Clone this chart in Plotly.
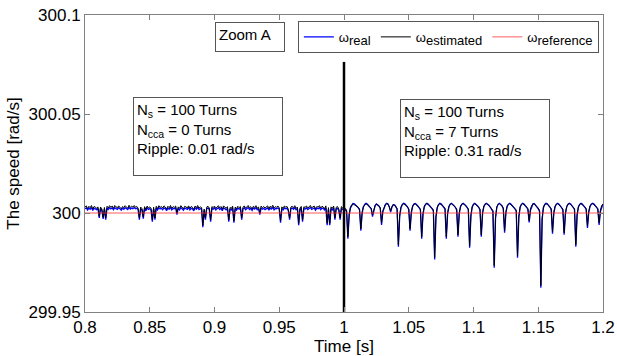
import plotly.graph_objects as go

# time grid: 0.8 .. 1.2 s, 1 ms samples (401 samples)
t_start_ms = 800
t_stop_ms = 1200
time_s = [k / 1000.0 for k in range(t_start_ms, t_stop_ms + 1)]

# estimated speed (black), one row per 10 ms
w_estimated = [
    # 0.80
    300.0030, 300.0036, 300.0022, 300.0034, 300.0027, 300.0038, 300.0020, 300.0033, 300.0029, 300.0024,
    300.0031, 299.9983, 300.0030, 300.0021, 299.9978, 300.0028, 299.9975, 300.0034, 300.0026, 300.0037,
    300.0029, 300.0035, 300.0023, 300.0038, 300.0031, 300.0026, 300.0036, 300.0030, 300.0021, 300.0033,
    300.0027, 300.0037, 300.0032, 300.0024, 300.0039, 300.0028, 300.0034, 300.0030, 300.0038, 300.0029,
    300.0033, 300.0025, 299.9975, 300.0030, 300.0022, 299.9980, 300.0032, 300.0018, 300.0035, 300.0026,
    300.0031, 300.0024, 299.9965, 300.0029, 299.9975, 300.0034, 300.0022, 300.0037, 300.0028, 300.0033,
    300.0025, 300.0036, 300.0030, 300.0019, 300.0034, 300.0027, 300.0038, 300.0023, 300.0032, 300.0029,
    300.0035, 300.0000, 300.0031, 300.0024, 300.0037, 300.0028, 300.0021, 300.0034, 300.0030, 300.0026,
    300.0036, 300.0023, 300.0033, 300.0029, 300.0018, 300.0035, 300.0027, 300.0038, 300.0024, 300.0031,
    300.0028, 299.9937, 300.0020, 299.9975, 300.0030, 300.0034, 300.0025, 299.9965, 300.0032, 300.0027,
    # 0.90
    300.0035, 300.0022, 300.0031, 300.0037, 300.0026, 300.0033, 300.0019, 300.0036, 300.0029, 300.0024,
    300.0032, 299.9965, 300.0028, 300.0023, 300.0035, 299.9960, 300.0030, 300.0021, 300.0034, 300.0027,
    300.0033, 299.9975, 300.0029, 300.0036, 300.0024, 300.0031, 300.0038, 300.0026, 300.0032, 300.0020,
    300.0034, 300.0028, 300.0037, 300.0023, 300.0031, 300.0000, 300.0035, 300.0027, 300.0033, 300.0025,
    300.0030, 300.0036, 300.0021, 300.0034, 300.0028, 300.0039, 300.0024, 300.0032, 300.0029, 300.0035,
    300.0026, 299.9960, 300.0031, 300.0022, 300.0036, 300.0029, 300.0033, 300.0019, 299.9975, 300.0030,
    300.0034, 300.0027, 300.0037, 300.0023, 300.0030, 299.9948, 300.0025, 300.0033, 299.9965, 300.0031,
    300.0028, 300.0036, 300.0024, 300.0032, 300.0038, 300.0026, 300.0030, 300.0035, 300.0021, 300.0033,
    300.0029, 300.0037, 300.0025, 300.0034, 300.0030, 300.0022, 300.0036, 299.9948, 300.0027, 299.9948,
    300.0031, 300.0024, 300.0035, 299.9975, 300.0029, 300.0033, 300.0020, 299.9975, 300.0032, 300.0026,
    # 1.00
    300.0030, 300.0022, 300.0015, 299.9880, 299.9995, 300.0030, 300.0042, 300.0046, 300.0043, 300.0038,
    300.0033, 300.0028, 300.0020, 299.9920, 300.0005, 300.0034, 300.0044, 300.0047, 300.0042, 300.0036,
    300.0031, 300.0024, 299.9990, 300.0020, 300.0038, 300.0045, 300.0041, 300.0035, 300.0026, 299.9950,
    300.0012, 300.0033, 300.0043, 300.0047, 300.0044, 300.0030, 300.0010, 300.0032, 300.0042, 300.0039,
    300.0032, 300.0022, 299.9840, 299.9990, 300.0030, 300.0043, 300.0047, 300.0044, 300.0038, 300.0030,
    300.0021, 299.9920, 300.0008, 300.0036, 300.0045, 300.0046, 300.0041, 300.0035, 300.0028, 300.0019,
    299.9880, 300.0000, 300.0033, 300.0044, 300.0047, 300.0043, 300.0037, 300.0031, 300.0025, 300.0016,
    299.9775, 299.9985, 300.0030, 300.0043, 300.0047, 300.0044, 300.0038, 300.0032, 300.0023, 299.9880,
    300.0002, 300.0034, 300.0045, 300.0047, 300.0042, 300.0036, 300.0029, 300.0020, 299.9890, 300.0003,
    300.0035, 300.0045, 300.0047, 300.0043, 300.0037, 300.0030, 300.0021, 299.9835, 299.9992, 300.0032,
    # 1.10
    300.0044, 300.0047, 300.0043, 300.0036, 300.0029, 300.0020, 299.9890, 300.0004, 300.0035, 300.0045,
    300.0047, 300.0043, 300.0037, 300.0030, 300.0022, 300.0012, 299.9734, 299.9980, 300.0031, 300.0044,
    300.0047, 300.0043, 300.0036, 300.0025, 299.9910, 300.0006, 300.0036, 300.0045, 300.0047, 300.0042,
    300.0036, 300.0030, 300.0024, 300.0015, 299.9784, 299.9985, 300.0031, 300.0044, 300.0047, 300.0043,
    300.0037, 300.0030, 300.0022, 299.9960, 300.0020, 300.0039, 300.0046, 300.0045, 300.0039, 300.0032,
    300.0025, 300.0014, 299.9633, 299.9975, 300.0030, 300.0043, 300.0047, 300.0044, 300.0038, 300.0031,
    300.0022, 299.9905, 300.0004, 300.0035, 300.0045, 300.0047, 300.0042, 300.0036, 300.0028, 300.0019,
    299.9900, 300.0003, 300.0034, 300.0045, 300.0047, 300.0043, 300.0037, 300.0030, 300.0021, 299.9840,
    299.9995, 300.0032, 300.0044, 300.0047, 300.0043, 300.0037, 300.0030, 300.0022, 299.9935, 300.0010,
    300.0036, 300.0045, 300.0047, 300.0043, 300.0037, 300.0030, 300.0022, 299.9950, 300.0015, 300.0038,
    # 1.20
    300.0045,
]

# real speed (blue)
w_real = [
    # 0.80
    300.0022, 300.0026, 300.0015, 300.0025, 300.0019, 300.0028, 300.0013, 300.0024, 300.0021, 300.0017,
    300.0023, 299.9975, 300.0022, 300.0014, 299.9970, 300.0020, 299.9966, 300.0025, 300.0018, 300.0027,
    300.0021, 300.0026, 300.0016, 300.0028, 300.0022, 300.0018, 300.0027, 300.0021, 300.0014, 300.0024,
    300.0019, 300.0027, 300.0023, 300.0017, 300.0029, 300.0020, 300.0025, 300.0022, 300.0028, 300.0021,
    300.0024, 300.0017, 299.9966, 300.0022, 300.0015, 299.9971, 300.0023, 300.0011, 300.0026, 300.0018,
    300.0022, 300.0016, 299.9956, 300.0021, 299.9966, 300.0025, 300.0015, 300.0027, 300.0020, 300.0024,
    300.0017, 300.0026, 300.0022, 300.0012, 300.0025, 300.0019, 300.0028, 300.0016, 300.0023, 300.0021,
    300.0026, 299.9992, 300.0023, 300.0016, 300.0027, 300.0020, 300.0014, 300.0025, 300.0022, 300.0018,
    300.0027, 300.0016, 300.0024, 300.0021, 300.0011, 300.0026, 300.0019, 300.0028, 300.0017, 300.0022,
    300.0020, 299.9928, 300.0013, 299.9966, 300.0022, 300.0025, 300.0017, 299.9956, 300.0023, 300.0019,
    # 0.90
    300.0026, 300.0015, 300.0022, 300.0027, 300.0018, 300.0024, 300.0012, 300.0026, 300.0021, 300.0016,
    300.0023, 299.9956, 300.0020, 300.0015, 300.0026, 299.9951, 300.0022, 300.0014, 300.0025, 300.0019,
    300.0024, 299.9966, 300.0021, 300.0027, 300.0016, 300.0022, 300.0028, 300.0018, 300.0023, 300.0013,
    300.0025, 300.0020, 300.0027, 300.0016, 300.0022, 299.9992, 300.0026, 300.0019, 300.0024, 300.0017,
    300.0022, 300.0026, 300.0014, 300.0025, 300.0020, 300.0029, 300.0016, 300.0023, 300.0021, 300.0026,
    300.0018, 299.9951, 300.0022, 300.0015, 300.0026, 300.0021, 300.0024, 300.0012, 299.9966, 300.0022,
    300.0025, 300.0019, 300.0027, 300.0016, 300.0022, 299.9939, 300.0017, 300.0024, 299.9956, 300.0022,
    300.0020, 300.0026, 300.0017, 300.0023, 300.0028, 300.0018, 300.0022, 300.0026, 300.0014, 300.0024,
    300.0021, 300.0027, 300.0017, 300.0025, 300.0022, 300.0015, 300.0026, 299.9939, 300.0019, 299.9939,
    300.0023, 300.0016, 300.0026, 299.9966, 300.0021, 300.0024, 300.0013, 299.9966, 300.0023, 300.0018,
    # 1.00
    300.0024, 300.0016, 300.0008, 299.9870, 299.9988, 300.0026, 300.0041, 300.0048, 300.0046, 300.0040,
    300.0034, 300.0027, 300.0016, 299.9910, 299.9998, 300.0030, 300.0043, 300.0049, 300.0045, 300.0038,
    300.0031, 300.0021, 299.9982, 300.0015, 300.0036, 300.0046, 300.0043, 300.0036, 300.0024, 299.9940,
    300.0006, 300.0030, 300.0043, 300.0049, 300.0046, 300.0031, 300.0004, 300.0029, 300.0042, 300.0041,
    300.0033, 300.0019, 299.9830, 299.9982, 300.0026, 300.0042, 300.0049, 300.0046, 300.0040, 300.0031,
    300.0018, 299.9910, 300.0001, 300.0033, 300.0045, 300.0048, 300.0043, 300.0036, 300.0027, 300.0015,
    299.9870, 299.9992, 300.0030, 300.0044, 300.0049, 300.0045, 300.0038, 300.0031, 300.0022, 300.0011,
    299.9765, 299.9976, 300.0026, 300.0042, 300.0049, 300.0046, 300.0039, 300.0032, 300.0020, 299.9870,
    299.9995, 300.0031, 300.0045, 300.0049, 300.0044, 300.0037, 300.0028, 300.0016, 299.9880, 299.9996,
    300.0032, 300.0045, 300.0049, 300.0045, 300.0038, 300.0029, 300.0017, 299.9825, 299.9984, 300.0029,
    # 1.10
    300.0044, 300.0049, 300.0045, 300.0037, 300.0028, 300.0016, 299.9880, 299.9997, 300.0032, 300.0045,
    300.0049, 300.0045, 300.0038, 300.0029, 300.0019, 300.0007, 299.9724, 299.9972, 300.0028, 300.0044,
    300.0049, 300.0045, 300.0037, 300.0022, 299.9900, 299.9999, 300.0033, 300.0045, 300.0049, 300.0044,
    300.0037, 300.0030, 300.0021, 300.0010, 299.9774, 299.9977, 300.0028, 300.0044, 300.0049, 300.0045,
    300.0038, 300.0029, 300.0018, 299.9952, 300.0014, 300.0037, 300.0047, 300.0047, 300.0040, 300.0031,
    300.0021, 300.0008, 299.9623, 299.9967, 300.0027, 300.0043, 300.0049, 300.0046, 300.0039, 300.0030,
    300.0018, 299.9895, 299.9997, 300.0032, 300.0045, 300.0049, 300.0044, 300.0037, 300.0027, 300.0015,
    299.9890, 299.9996, 300.0031, 300.0045, 300.0049, 300.0045, 300.0038, 300.0029, 300.0017, 299.9830,
    299.9987, 300.0029, 300.0044, 300.0049, 300.0045, 300.0038, 300.0029, 300.0018, 299.9925, 300.0003,
    300.0033, 300.0045, 300.0049, 300.0045, 300.0038, 300.0029, 300.0018, 299.9940, 300.0008, 300.0035,
    # 1.20
    300.0046,
]

ref_t = [0.8, 1.2]
w_reference = [300.0, 300.0]

marker_t = [1.0, 1.0]
marker_y = [299.95, 300.0763]

x_ticks = [0.8, 0.85, 0.9, 0.95, 1.0, 1.05, 1.1, 1.15, 1.2]
x_ticklabels = ["0.8", "0.85", "0.9", "0.95", "1", "1.05", "1.1", "1.15", "1.2"]
y_ticks = [299.95, 300.0, 300.05, 300.1]
y_ticklabels = ["299.95", "300", "300.05", "300.1"]

FONT = "Liberation Sans, Arial, sans-serif"
SUB = "<sub><span style='font-size:13px'>{}</span></sub>"

fig = go.Figure()
fig.add_trace(go.Scatter(x=time_s, y=w_real, mode="lines", name="ω" + SUB.format("real"),
                         line=dict(color="#0000ff", width=1.3)))
fig.add_trace(go.Scatter(x=time_s, y=w_estimated, mode="lines", name="ω" + SUB.format("estimated"),
                         line=dict(color="#000000", width=1)))
fig.add_trace(go.Scatter(x=ref_t, y=w_reference, mode="lines", name="ω" + SUB.format("reference"),
                         line=dict(color="#ff3030", width=0.8)))
fig.add_trace(go.Scatter(x=marker_t, y=marker_y, mode="lines", showlegend=False,
                         line=dict(color="#000000", width=2.5)))

box_text_left = "N<sub>s</sub> = 100 Turns<br>N<sub>cca</sub> = 0 Turns<br>Ripple: 0.01 rad/s"
box_text_right = "N<sub>s</sub> = 100 Turns<br>N<sub>cca</sub> = 7 Turns<br>Ripple: 0.31 rad/s"

fig.update_layout(
    width=617, height=356,
    margin=dict(l=85, r=14, t=15, b=44, autoexpand=False),
    paper_bgcolor="white", plot_bgcolor="white",
    font=dict(family=FONT, size=13, color="black"),
    showlegend=True,
    legend=dict(orientation="h", x=0.992, y=0.98, xanchor="right", yanchor="top",
                bordercolor="#555555", borderwidth=1, bgcolor="white",
                font=dict(size=13), itemwidth=30, tracegroupgap=0),
    xaxis=dict(range=[0.8, 1.2], tickvals=x_ticks, ticktext=x_ticklabels, automargin=False,
               showline=True, linecolor="#808080", linewidth=1, mirror="ticks",
               ticks="inside", ticklen=5, tickcolor="#808080", showgrid=False, zeroline=False,
               tickfont=dict(size=17),
               title=dict(text="Time [s]", font=dict(size=17), standoff=0)),
    yaxis=dict(range=[299.95, 300.1], tickvals=y_ticks, ticktext=y_ticklabels, automargin=False,
               showline=True, linecolor="#808080", linewidth=1, mirror="ticks",
               ticks="inside", ticklen=5, tickcolor="#808080", showgrid=False, zeroline=False,
               tickfont=dict(size=17),
               title=dict(text="The speed [rad/s]", font=dict(size=17), standoff=4)),
    annotations=[
        dict(text="Zoom A", x=0.251, y=0.976, xref="paper", yref="paper",
             xanchor="left", yanchor="top", showarrow=False, align="left", valign="top",
             bordercolor="#555555", borderwidth=1, borderpad=3, bgcolor="white",
             width=62, height=22, font=dict(size=15)),
        dict(text=box_text_left, x=0.093, y=0.724, xref="paper", yref="paper",
             xanchor="left", yanchor="top", showarrow=False, align="left", valign="top",
             bordercolor="#555555", borderwidth=1, borderpad=3, bgcolor="white",
             width=142, height=71, font=dict(size=15)),
        dict(text=box_text_right, x=0.608, y=0.717, xref="paper", yref="paper",
             xanchor="left", yanchor="top", showarrow=False, align="left", valign="top",
             bordercolor="#555555", borderwidth=1, borderpad=3, bgcolor="white",
             width=142, height=71, font=dict(size=15)),
    ],
)

fig.write_html("out.html")
